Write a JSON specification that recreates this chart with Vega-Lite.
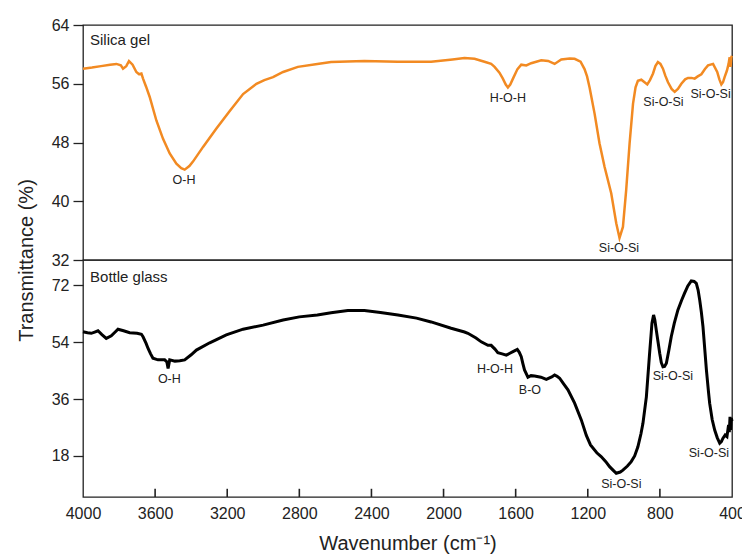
{
  "$schema": "https://vega.github.io/schema/vega-lite/v6.json",
  "padding": {"left": 15, "top": 16, "right": 0, "bottom": 5},
  "background": "white",
  "spacing": 0,
  "bounds": "flush",
  "datasets": {
    "silica": [
      {"w":4000,"t":58.05},{"w":3950,"t":58.2},{"w":3900,"t":58.4},{"w":3850,"t":58.6},{"w":3815,"t":58.7},{"w":3790,"t":58.5},{"w":3778,"t":58.05},{"w":3760,"t":58.4},{"w":3745,"t":59.1},{"w":3725,"t":58.6},{"w":3704,"t":57.6},{"w":3690,"t":57.3},{"w":3676,"t":57.4},{"w":3667,"t":56.7},{"w":3650,"t":55.6},{"w":3630,"t":54.2},{"w":3593,"t":51.0},{"w":3556,"t":48.5},{"w":3519,"t":46.5},{"w":3482,"t":45.1},{"w":3455,"t":44.5},{"w":3436,"t":44.3},{"w":3410,"t":44.8},{"w":3390,"t":45.4},{"w":3334,"t":47.4},{"w":3260,"t":49.9},{"w":3186,"t":52.3},{"w":3112,"t":54.6},{"w":3038,"t":56.0},{"w":2994,"t":56.5},{"w":2946,"t":56.9},{"w":2938,"t":57.0},{"w":2890,"t":57.6},{"w":2808,"t":58.3},{"w":2700,"t":58.7},{"w":2624,"t":58.95},{"w":2439,"t":59.1},{"w":2254,"t":59.0},{"w":2069,"t":59.0},{"w":1950,"t":59.3},{"w":1884,"t":59.5},{"w":1828,"t":59.4},{"w":1773,"t":59.0},{"w":1736,"t":58.7},{"w":1717,"t":58.3},{"w":1690,"t":57.5},{"w":1671,"t":56.7},{"w":1655,"t":55.9},{"w":1643,"t":55.5},{"w":1630,"t":55.9},{"w":1615,"t":56.7},{"w":1590,"t":58.0},{"w":1569,"t":58.6},{"w":1541,"t":58.5},{"w":1514,"t":58.8},{"w":1458,"t":59.2},{"w":1420,"t":59.1},{"w":1384,"t":58.7},{"w":1347,"t":59.3},{"w":1300,"t":59.45},{"w":1273,"t":59.4},{"w":1240,"t":59.0},{"w":1218,"t":58.0},{"w":1204,"t":57.0},{"w":1190,"t":55.5},{"w":1162,"t":51.9},{"w":1135,"t":47.9},{"w":1107,"t":44.7},{"w":1070,"t":41.1},{"w":1042,"t":37.0},{"w":1024,"t":35.0},{"w":1005,"t":36.5},{"w":987,"t":41.5},{"w":968,"t":47.9},{"w":949,"t":53.3},{"w":935,"t":55.5},{"w":922,"t":56.4},{"w":903,"t":56.55},{"w":885,"t":56.2},{"w":870,"t":55.9},{"w":855,"t":56.5},{"w":838,"t":57.4},{"w":825,"t":58.4},{"w":811,"t":58.95},{"w":797,"t":58.7},{"w":783,"t":58.05},{"w":770,"t":57.1},{"w":755,"t":56.2},{"w":735,"t":55.3},{"w":718,"t":54.9},{"w":700,"t":55.3},{"w":681,"t":56.0},{"w":660,"t":56.6},{"w":644,"t":56.8},{"w":625,"t":56.8},{"w":607,"t":56.7},{"w":590,"t":57.0},{"w":570,"t":57.3},{"w":550,"t":58.0},{"w":533,"t":58.5},{"w":505,"t":58.7},{"w":482,"t":57.6},{"w":470,"t":56.6},{"w":459,"t":55.9},{"w":450,"t":56.2},{"w":441,"t":56.9},{"w":428,"t":57.8},{"w":419,"t":58.7},{"w":413,"t":59.6},{"w":408,"t":58.3},{"w":404,"t":59.6},{"w":400,"t":59.8}
    ],
    "bottle": [
      {"w":4000,"t":57.3},{"w":3975,"t":57.0},{"w":3954,"t":56.8},{"w":3935,"t":57.2},{"w":3917,"t":57.6},{"w":3895,"t":56.4},{"w":3871,"t":55.2},{"w":3843,"t":56.0},{"w":3820,"t":57.3},{"w":3806,"t":58.1},{"w":3775,"t":57.6},{"w":3741,"t":57.0},{"w":3700,"t":56.8},{"w":3676,"t":56.5},{"w":3667,"t":55.7},{"w":3650,"t":53.6},{"w":3639,"t":52.0},{"w":3625,"t":50.3},{"w":3612,"t":48.9},{"w":3584,"t":48.4},{"w":3547,"t":48.4},{"w":3535,"t":47.8},{"w":3528,"t":45.7},{"w":3522,"t":47.5},{"w":3519,"t":48.4},{"w":3490,"t":48.0},{"w":3463,"t":48.1},{"w":3436,"t":48.4},{"w":3400,"t":50.0},{"w":3371,"t":51.5},{"w":3297,"t":53.8},{"w":3205,"t":56.3},{"w":3112,"t":58.1},{"w":3001,"t":59.4},{"w":2890,"t":61.0},{"w":2800,"t":62.0},{"w":2700,"t":62.6},{"w":2624,"t":63.3},{"w":2531,"t":64.0},{"w":2439,"t":64.0},{"w":2350,"t":63.4},{"w":2253,"t":62.6},{"w":2150,"t":61.6},{"w":2069,"t":60.4},{"w":1958,"t":58.4},{"w":1884,"t":57.2},{"w":1865,"t":56.8},{"w":1820,"t":55.3},{"w":1791,"t":54.1},{"w":1754,"t":53.0},{"w":1736,"t":53.0},{"w":1715,"t":51.8},{"w":1699,"t":50.7},{"w":1675,"t":50.3},{"w":1652,"t":49.9},{"w":1635,"t":50.4},{"w":1615,"t":51.0},{"w":1591,"t":51.7},{"w":1580,"t":50.8},{"w":1569,"t":49.4},{"w":1560,"t":47.2},{"w":1551,"t":45.2},{"w":1532,"t":42.9},{"w":1515,"t":43.4},{"w":1495,"t":43.3},{"w":1460,"t":42.9},{"w":1430,"t":42.2},{"w":1400,"t":43.0},{"w":1384,"t":43.6},{"w":1370,"t":43.2},{"w":1356,"t":42.6},{"w":1335,"t":40.9},{"w":1310,"t":38.9},{"w":1273,"t":34.7},{"w":1236,"t":29.4},{"w":1208,"t":24.5},{"w":1185,"t":21.5},{"w":1150,"t":19.0},{"w":1126,"t":17.8},{"w":1100,"t":16.2},{"w":1079,"t":14.6},{"w":1060,"t":13.5},{"w":1042,"t":12.5},{"w":1020,"t":12.9},{"w":1005,"t":13.5},{"w":980,"t":14.8},{"w":959,"t":16.2},{"w":940,"t":18.0},{"w":922,"t":20.9},{"w":905,"t":25.0},{"w":894,"t":28.3},{"w":875,"t":36.7},{"w":857,"t":50.5},{"w":848,"t":57.0},{"w":844,"t":60.0},{"w":835,"t":62.6},{"w":828,"t":61.0},{"w":820,"t":57.8},{"w":810,"t":54.0},{"w":801,"t":50.5},{"w":792,"t":47.5},{"w":783,"t":46.2},{"w":774,"t":46.3},{"w":764,"t":47.3},{"w":750,"t":51.5},{"w":737,"t":55.7},{"w":720,"t":60.0},{"w":700,"t":64.2},{"w":680,"t":67.2},{"w":663,"t":69.5},{"w":645,"t":71.8},{"w":626,"t":73.4},{"w":610,"t":73.2},{"w":598,"t":72.6},{"w":588,"t":70.5},{"w":579,"t":67.3},{"w":570,"t":63.5},{"w":561,"t":58.9},{"w":550,"t":51.0},{"w":542,"t":45.2},{"w":530,"t":38.0},{"w":524,"t":34.7},{"w":510,"t":29.5},{"w":496,"t":26.2},{"w":482,"t":23.8},{"w":468,"t":22.0},{"w":459,"t":22.5},{"w":450,"t":23.6},{"w":438,"t":24.6},{"w":428,"t":24.1},{"w":419,"t":27.8},{"w":415,"t":25.5},{"w":411,"t":30.4},{"w":408,"t":26.2},{"w":404,"t":30.0},{"w":400,"t":29.0}
    ],
    "xticks": [{"w":3600},{"w":3200},{"w":2800},{"w":2400},{"w":2000},{"w":1600},{"w":1200},{"w":800}],
    "silicaTitle": [{"w":3961,"t":61.9,"label":"Silica gel"}],
    "silicaPeaks": [
      {"w":3440,"t":42.9,"label":"O-H"},
      {"w":1643,"t":54.05,"label":"H-O-H"},
      {"w":1027,"t":33.6,"label":"Si-O-Si"},
      {"w":780,"t":53.5,"label":"Si-O-Si"},
      {"w":519,"t":54.6,"label":"Si-O-Si"}
    ],
    "bottleTitle": [{"w":3961,"t":74.7,"label":"Bottle glass"}],
    "bottlePeaks": [
      {"w":3521,"t":42.3,"label":"O-H"},
      {"w":1715,"t":45.5,"label":"H-O-H"},
      {"w":1521,"t":38.9,"label":"B-O"},
      {"w":1014,"t":9.0,"label":"Si-O-Si"},
      {"w":728,"t":43.4,"label":"Si-O-Si"},
      {"w":528,"t":18.8,"label":"Si-O-Si"}
    ]
  },
  "vconcat": [
    {
      "width": 649,
      "height": 235,
      "layer": [
        {
          "data": {"name": "silica"},
          "mark": {"type": "line", "color": "#F28A22", "strokeWidth": 2.5},
          "encoding": {
            "x": {"field": "w", "type": "quantitative", "scale": {"domain": [400, 4000], "reverse": true, "nice": false, "zero": false}, "axis": null},
            "y": {"field": "t", "type": "quantitative", "scale": {"domain": [32, 64], "nice": false, "zero": false}, "axis": {"values": [32, 40, 48, 56, 64], "title": null}}
          }
        },
        {
          "data": {"name": "silicaTitle"},
          "mark": {"type": "text", "align": "left", "baseline": "middle", "fontSize": 15, "font": "Liberation Sans", "color": "#222"},
          "encoding": {
            "x": {"field": "w", "type": "quantitative"},
            "y": {"field": "t", "type": "quantitative"},
            "text": {"field": "label"}
          }
        },
        {
          "data": {"name": "silicaPeaks"},
          "mark": {"type": "text", "align": "center", "baseline": "middle", "fontSize": 12.5, "font": "Liberation Sans", "color": "#222"},
          "encoding": {
            "x": {"field": "w", "type": "quantitative"},
            "y": {"field": "t", "type": "quantitative"},
            "text": {"field": "label"}
          }
        }
      ]
    },
    {
      "width": 649,
      "height": 237,
      "layer": [
        {
          "data": {"name": "bottle"},
          "mark": {"type": "line", "color": "#000000", "strokeWidth": 3},
          "encoding": {
            "x": {"field": "w", "type": "quantitative", "scale": {"domain": [400, 4000], "reverse": true, "nice": false, "zero": false},
                  "axis": {"values": [4000, 3600, 3200, 2800, 2400, 2000, 1600, 1200, 800, 400], "format": "d", "ticks": false, "labelPadding": 8, "title": "Wavenumber (cm⁻¹)", "titlePadding": 12, "labelFlush": false, "labelOverlap": false}},
            "y": {"field": "t", "type": "quantitative", "scale": {"domain": [5, 80], "nice": false, "zero": false},
                  "axis": {"values": [18, 36, 54, 72], "title": "Transmittance (%)", "titleX": -47, "titleY": 0, "titleAlign": "center", "titleBaseline": "bottom", "titleAngle": 270}}
          }
        },
        {
          "data": {"name": "xticks"},
          "mark": {"type": "rule", "color": "#222", "strokeWidth": 1.6},
          "encoding": {
            "x": {"field": "w", "type": "quantitative"},
            "y": {"datum": 5},
            "y2": {"datum": 7.6}
          }
        },
        {
          "data": {"name": "bottleTitle"},
          "mark": {"type": "text", "align": "left", "baseline": "middle", "fontSize": 15, "font": "Liberation Sans", "color": "#222"},
          "encoding": {
            "x": {"field": "w", "type": "quantitative"},
            "y": {"field": "t", "type": "quantitative"},
            "text": {"field": "label"}
          }
        },
        {
          "data": {"name": "bottlePeaks"},
          "mark": {"type": "text", "align": "center", "baseline": "middle", "fontSize": 12.5, "font": "Liberation Sans", "color": "#222"},
          "encoding": {
            "x": {"field": "w", "type": "quantitative"},
            "y": {"field": "t", "type": "quantitative"},
            "text": {"field": "label"}
          }
        }
      ]
    }
  ],
  "config": {
    "view": {"stroke": "#222", "strokeWidth": 1.3},
    "axis": {
      "labelFont": "Liberation Sans", "titleFont": "Liberation Sans",
      "labelFontSize": 16, "titleFontSize": 20, "titleFontWeight": "normal",
      "labelColor": "#222", "titleColor": "#222", "tickColor": "#222", "domainColor": "#222",
      "grid": false, "tickSize": 10, "labelPadding": 4, "domain": false, "tickWidth": 1.3
    }
  }
}
